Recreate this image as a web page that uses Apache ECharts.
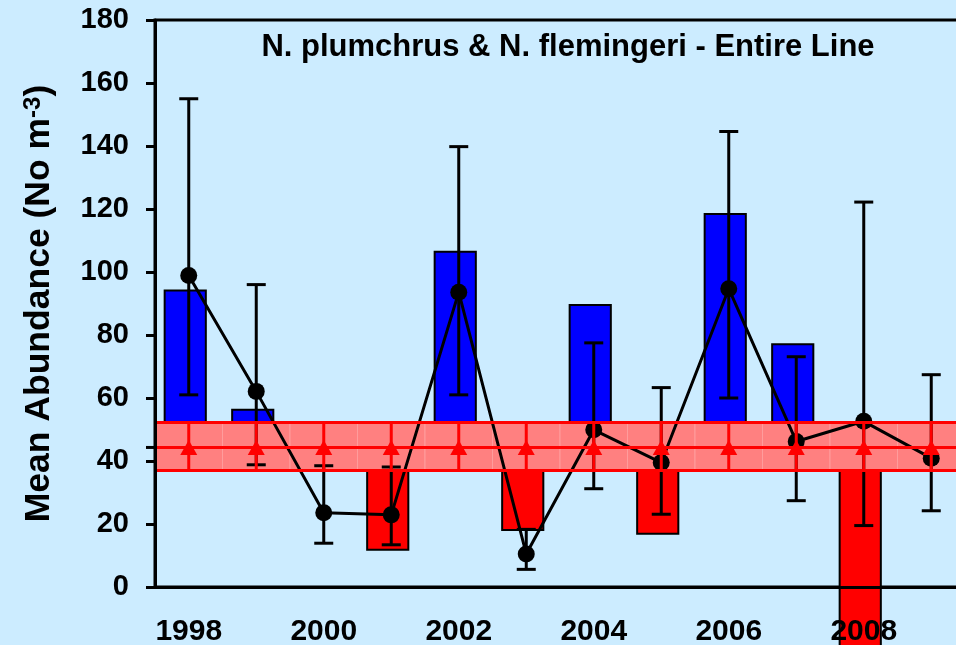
<!DOCTYPE html>
<html><head><meta charset="utf-8">
<script src="https://cdn.jsdelivr.net/npm/echarts@6/dist/echarts.min.js"></script>
<style>html,body{margin:0;padding:0;background:#CCECFF}#c{width:956px;height:645px}</style>
</head><body><div id="c"></div><script>
// ---- data ----
const years = ['1998','1999','2000','2001','2002','2003','2004','2005','2006','2007','2008','2009'];
const anomalyBars = [94.1, 56.3, null, 11.8, 106.4, 18.1, 89.5, 16.9, 118.4, 77.1, -30, null];
const meanAbundance = [98.9, 62.1, 23.6, 22.9, 93.6, 10.5, 49.9, 39.5, 94.7, 46.2, 52.6, 40.9];
const errUpper = [155.0, 96.0, 38.5, 38.1, 139.8, 18.3, 77.5, 63.3, 144.6, 73.1, 122.2, 67.4];
const errLower = [61.0, 38.8, 13.9, 13.4, 61.0, 5.6, 31.2, 23.1, 60.0, 27.4, 19.5, 24.2];
const longTermMean = 44.3;
const bandLow = 37.2;
const bandHigh = 52.4;
const yMin = 0, yMax = 180, yStep = 20;
const titleText = 'N. plumchrus & N. flemingeri - Entire Line';

// ---- chart ----
const FONT = '"Liberation Sans", Arial, sans-serif';
const chart = echarts.init(document.getElementById('c'), null, {renderer: 'canvas'});
const idx = years.map((_, i) => i);

const option = {
  backgroundColor: '#CCECFF',
  animation: false,
  title: {
    text: titleText, left: 563, top: 27, textAlign: 'center',
    textStyle: {fontFamily: FONT, fontSize: 31, fontWeight: 'bold', color: '#000'}
  },
  grid: {
    left: 155, top: 20, right: -9, bottom: 58, outerBoundsMode: 'none',
    show: true, borderColor: '#000', borderWidth: 3, backgroundColor: 'transparent'
  },
  xAxis: {
    type: 'category', data: years, boundaryGap: true, z: 10,
    axisLine: {lineStyle: {color: '#000', width: 3}},
    axisTick: {alignWithLabel: true, interval: 0, length: 8, lineStyle: {color: '#000', width: 3}},
    axisLabel: {interval: 1, margin: 30, fontFamily: FONT, fontSize: 30, fontWeight: 'bold', color: '#000'},
    splitLine: {show: false}
  },
  yAxis: {
    type: 'value', min: yMin, max: yMax, interval: yStep, z: 10,
    name: 'Mean Abundance (No m{sup|-3})', nameLocation: 'middle', nameGap: 98, nameRotate: 90,
    nameTextStyle: {
      fontFamily: FONT, fontSize: 35.5, fontWeight: 'bold', color: '#000',
      rich: {sup: {fontFamily: FONT, fontSize: 24, fontWeight: 'bold', color: '#000', verticalAlign: 'top'}}
    },
    axisLine: {show: true, lineStyle: {color: '#000', width: 3}},
    axisTick: {show: true, length: 9, lineStyle: {color: '#000', width: 3}},
    axisLabel: {margin: 26, fontFamily: FONT, fontSize: 29, fontWeight: 'bold', color: '#000'},
    splitLine: {show: false}
  },
  series: [
    {
      type: 'custom', name: 'anomaly', z: 1, clip: false,
      data: anomalyBars.map((v, i) => [i, v]).filter(d => d[1] != null),
      encode: {x: 0, y: 1},
      renderItem: function (params, api) {
        const i = api.value(0), v = api.value(1);
        const base = api.coord([i, longTermMean]);
        const top = api.coord([i, v]);
        const band = api.size([1, 0])[0];
        const w = band * 0.61;
        const cx = top[0] - band * 0.052;
        return {
          type: 'rect',
          shape: {x: cx - w / 2, y: Math.min(base[1], top[1]), width: w, height: Math.abs(top[1] - base[1])},
          style: {fill: v > longTermMean ? '#0000FF' : '#FF0000', stroke: '#000', lineWidth: 2}
        };
      }
    },
    {
      type: 'custom', name: 'band', z: 2, clip: false,
      data: idx.map(i => [i, bandLow, bandHigh]),
      encode: {x: 0, y: [1, 2]},
      renderItem: function (params, api) {
        const i = api.value(0);
        const lo = api.coord([i, api.value(1)]);
        const hi = api.coord([i, api.value(2)]);
        const w = api.size([1, 0])[0];
        return {
          type: 'rect',
          shape: {x: lo[0] - w / 2, y: hi[1], width: w, height: lo[1] - hi[1]},
          style: {fill: '#FF8080', stroke: '#FF9C9C', lineWidth: 1}
        };
      }
    },
    {
      type: 'custom', name: 'errors', z: 3, clip: false,
      data: idx.map(i => [i, errLower[i], errUpper[i]]),
      encode: {x: 0, y: [1, 2]},
      renderItem: function (params, api) {
        const i = api.value(0);
        const lo = api.coord([i, api.value(1)]);
        const hi = api.coord([i, api.value(2)]);
        const c = 9.5;
        const st = {stroke: '#000', lineWidth: 3};
        return {
          type: 'group',
          children: [
            {type: 'line', shape: {x1: lo[0], y1: lo[1], x2: hi[0], y2: hi[1]}, style: st},
            {type: 'line', shape: {x1: hi[0] - c, y1: hi[1], x2: hi[0] + c, y2: hi[1]}, style: st},
            {type: 'line', shape: {x1: lo[0] - c, y1: lo[1], x2: lo[0] + c, y2: lo[1]}, style: st}
          ]
        };
      }
    },
    {
      type: 'line', name: 'mean abundance', z: 4,
      data: meanAbundance,
      symbol: 'circle', symbolSize: 17,
      itemStyle: {color: '#000'},
      lineStyle: {color: '#000', width: 3}
    },
    {
      type: 'custom', name: 'bandErrors', z: 5, clip: false,
      data: idx.map(i => [i, bandLow, bandHigh]),
      encode: {x: 0, y: [1, 2]},
      renderItem: function (params, api) {
        const i = api.value(0);
        const lo = api.coord([i, api.value(1)]);
        const hi = api.coord([i, api.value(2)]);
        return {type: 'line', shape: {x1: lo[0], y1: lo[1], x2: hi[0], y2: hi[1]}, style: {stroke: '#FF0000', lineWidth: 3}};
      }
    },
    {
      type: 'line', name: 'long-term mean', z: 6,
      data: idx.map(() => longTermMean),
      symbol: 'triangle', symbolSize: [17, 15],
      itemStyle: {color: '#FF0000'},
      lineStyle: {color: '#FF0000', width: 3},
      markLine: {
        silent: true, symbol: ['none', 'none'], label: {show: false},
        lineStyle: {color: '#FF0000', type: 'solid', width: 3},
        data: [{yAxis: bandHigh}, {yAxis: bandLow}, {yAxis: longTermMean}]
      }
    },
    {
      type: 'custom', name: 'meanTick', z: 10, clip: false,
      data: [[0, longTermMean]],
      encode: {x: 0, y: 1},
      renderItem: function (params, api) {
        const p = api.coord([0, api.value(1)]);
        const x0 = params.coordSys.x;
        return {type: 'line', shape: {x1: x0 - 9, y1: p[1], x2: x0, y2: p[1]}, style: {stroke: '#000', lineWidth: 3}};
      }
    }
  ]
};
chart.setOption(option);
</script></body></html>
